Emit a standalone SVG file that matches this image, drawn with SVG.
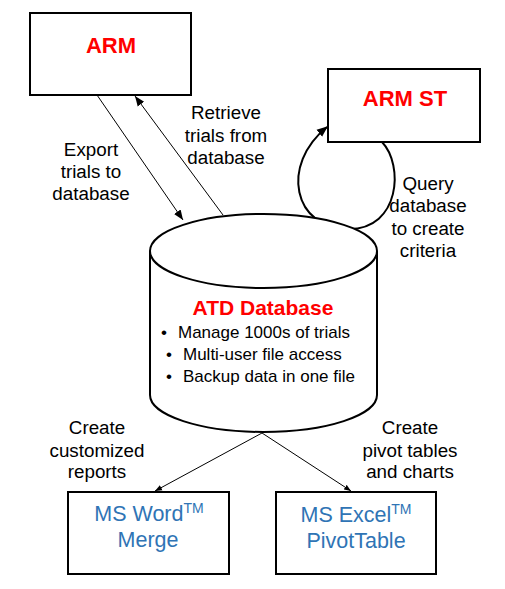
<svg xmlns="http://www.w3.org/2000/svg" width="505" height="589" viewBox="0 0 505 589">
<defs>
<style>
.box{fill:#fff;stroke:#000;stroke-width:2}
.t{font-family:"Liberation Sans",Arial,sans-serif;font-size:18.8px;fill:#000;text-anchor:middle}
.red{font-family:"Liberation Sans",Arial,sans-serif;font-weight:bold;fill:#ff0000;text-anchor:middle}
.blue{font-family:"Liberation Sans",Arial,sans-serif;font-size:21.5px;fill:#2F74B5;text-anchor:middle}
.b{font-family:"Liberation Sans",Arial,sans-serif;font-size:17px;fill:#000}
.ln{stroke:#000;stroke-width:1;fill:none}
</style>
<marker id="ah" viewBox="0 0 10 10" refX="10" refY="5" markerWidth="10" markerHeight="10" markerUnits="userSpaceOnUse" orient="auto">
<path d="M0,1 L10,5 L0,9 Z" fill="#000"/>
</marker>
<marker id="ahs" viewBox="0 0 10 10" refX="10" refY="5" markerWidth="7" markerHeight="7" markerUnits="userSpaceOnUse" orient="auto">
<path d="M0,1 L10,5 L0,9 Z" fill="#000"/>
</marker>
<marker id="ahl" viewBox="0 0 10 10" refX="9" refY="5" markerWidth="11" markerHeight="11" markerUnits="userSpaceOnUse" orient="auto">
<path d="M0,1 L10,5 L0,9 Z" fill="#000"/>
</marker>
</defs>

<g id="connectors">
<line class="ln" x1="97" y1="95" x2="183" y2="220" marker-end="url(#ah)"/>
<line class="ln" x1="223" y1="215" x2="135" y2="96" marker-end="url(#ah)"/>
<path d="M382,142 C404,165 400,229 349,229 C293,229 280,165 327,127" fill="none" stroke="#000" stroke-width="2" marker-end="url(#ahl)"/>
<line class="ln" x1="262" y1="433" x2="155" y2="491" marker-end="url(#ahs)"/>
<line class="ln" x1="262" y1="433" x2="351" y2="491" marker-end="url(#ahs)"/>
</g>

<g id="arm">
<rect class="box" x="30" y="13" width="161" height="82"/>
<text class="red" x="111" y="53" font-size="22">ARM</text>
</g>

<g id="armst">
<rect class="box" x="328" y="69" width="152" height="73"/>
<text class="red" x="405" y="106" font-size="22">ARM ST</text>
</g>

<g id="atd-database">
<path d="M150,251 L150,395 A113.5,37 0 0 0 377,395 L377,251" fill="#fff" stroke="#000" stroke-width="2"/>
<ellipse cx="263.5" cy="251" rx="113.5" ry="37" fill="#fff" stroke="#000" stroke-width="2"/>
<text class="red" x="263" y="315" font-size="21">ATD Database</text>
<text class="b" x="161" y="338">•</text>
<text class="b" x="178" y="338">Manage 1000s of trials</text>
<text class="b" x="166" y="360">•</text>
<text class="b" x="183" y="360">Multi-user file access</text>
<text class="b" x="166" y="382">•</text>
<text class="b" x="183" y="382">Backup data in one file</text>
</g>

<g id="msword">
<rect class="box" x="68" y="492" width="161" height="82"/>
<text class="blue" x="149" y="521">MS Word<tspan font-size="14" dy="-8">TM</tspan></text>
<text class="blue" x="148" y="547">Merge</text>
</g>

<g id="msexcel">
<rect class="box" x="276" y="492" width="160" height="82"/>
<text class="blue" x="356" y="522">MS Excel<tspan font-size="14" dy="-8">TM</tspan></text>
<text class="blue" x="356" y="548">PivotTable</text>
</g>

<g id="labels">
<text class="t" x="91" y="156">Export</text>
<text class="t" x="91" y="178">trials to</text>
<text class="t" x="91" y="200">database</text>
<text class="t" x="226" y="119">Retrieve</text>
<text class="t" x="226" y="142">trials from</text>
<text class="t" x="226" y="164">database</text>
<text class="t" x="428" y="190">Query</text>
<text class="t" x="428" y="212">database</text>
<text class="t" x="428" y="235">to create</text>
<text class="t" x="428" y="257">criteria</text>
<text class="t" x="97" y="434">Create</text>
<text class="t" x="97" y="457">customized</text>
<text class="t" x="97" y="478">reports</text>
<text class="t" x="410" y="434">Create</text>
<text class="t" x="410" y="457">pivot tables</text>
<text class="t" x="410" y="478">and charts</text>
</g>
</svg>
